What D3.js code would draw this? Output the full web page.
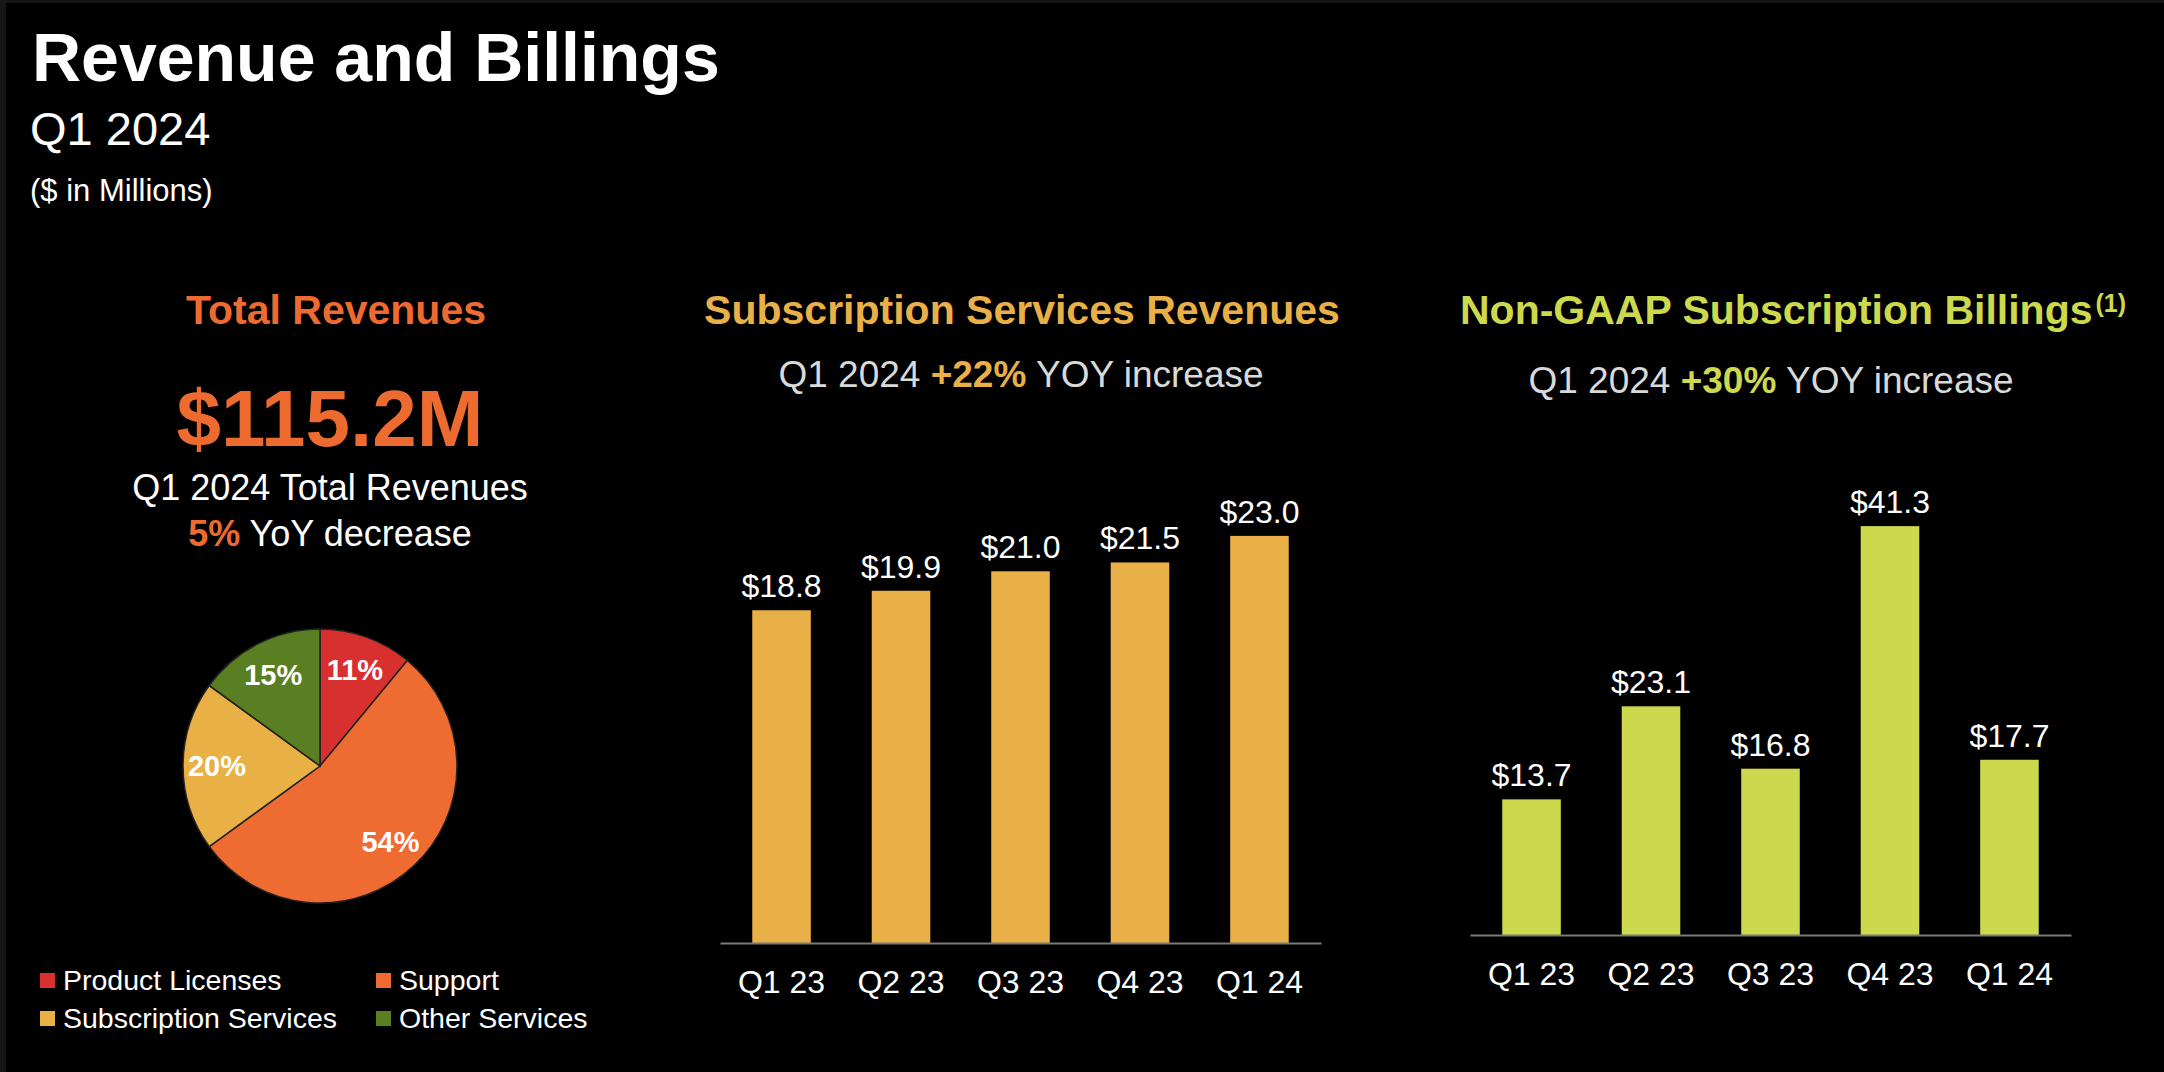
<!DOCTYPE html>
<html><head><meta charset="utf-8">
<script src="https://cdn.jsdelivr.net/npm/d3@7"></script>
<style>
html,body{margin:0;padding:0;background:#000;}
svg{display:block;}
text{font-family:"Liberation Sans",Arial,Helvetica,sans-serif;}
</style></head>
<body>
<script>
// ---- data ----
const quarters = ["Q1 23","Q2 23","Q3 23","Q4 23","Q1 24"];
const subscriptionRevenue = [18.8, 19.9, 21.0, 21.5, 23.0];
const subscriptionBillings = [13.7, 23.1, 16.8, 41.3, 17.7];
const revenueSegments = ["Product Licenses","Support","Subscription Services","Other Services"];
const revenueShares = [11, 54, 20, 15];
const segmentColors = ["#D8302F","#EE6B32","#E8B045","#5A7E22"];

const W = 2164, H = 1072;
const ORANGE = "#EE6B30", GOLD = "#E9B047", LIME = "#CDD94D", GREY = "#D9D9D9";

const svg = d3.select("body").append("svg").attr("width", W).attr("height", H);
svg.append("rect").attr("width", W).attr("height", H).attr("fill", "#161616");
svg.append("rect").attr("x", 6).attr("y", 3).attr("width", W - 6).attr("height", H - 3).attr("fill", "#000");

// ---- header ----
svg.append("text").attr("x", 32).attr("y", 81).attr("fill", "#fff")
  .attr("font-size", 68).attr("font-weight", "bold").text("Revenue and Billings");
svg.append("text").attr("x", 30).attr("y", 145).attr("fill", "#fff")
  .attr("font-size", 47).text("Q1 2024");
svg.append("text").attr("x", 30).attr("y", 201).attr("fill", "#fff")
  .attr("font-size", 31).text("($ in Millions)");

// ---- left panel ----
const lx = 330;
svg.append("text").attr("x", 336).attr("y", 324).attr("text-anchor", "middle")
  .attr("fill", ORANGE).attr("font-size", 41).attr("font-weight", "bold").text("Total Revenues");
svg.append("text").attr("x", lx).attr("y", 446).attr("text-anchor", "middle")
  .attr("fill", ORANGE).attr("font-size", 80).attr("font-weight", "bold").text("$115.2M");
svg.append("text").attr("x", lx).attr("y", 500).attr("text-anchor", "middle")
  .attr("fill", "#fff").attr("font-size", 36).text("Q1 2024 Total Revenues");
const dec = svg.append("text").attr("x", lx).attr("y", 546).attr("text-anchor", "middle")
  .attr("fill", "#fff").attr("font-size", 36);
dec.append("tspan").attr("fill", ORANGE).attr("font-weight", "bold").text("5%");
dec.append("tspan").text(" YoY decrease");

// pie
const pieData = revenueSegments.map((s, i) => ({name: s, value: revenueShares[i], color: segmentColors[i]}));
const pie = d3.pie().sort(null).value(d => d.value);
const R = 137;
const arc = d3.arc().innerRadius(0).outerRadius(R);
const labelArc = d3.arc().innerRadius(103).outerRadius(103);
const pg = svg.append("g").attr("transform", "translate(320,766)");
const arcs = pie(pieData);
pg.selectAll("path").data(arcs).join("path")
  .attr("d", arc).attr("fill", d => d.data.color)
  .attr("stroke", "#222").attr("stroke-width", 1.5);
pg.selectAll("text").data(arcs).join("text")
  .attr("transform", d => `translate(${labelArc.centroid(d)})`)
  .attr("text-anchor", "middle").attr("dy", "0.36em")
  .attr("fill", "#fff").attr("font-size", 29).attr("font-weight", "bold")
  .text(d => d.data.value + "%");

// legend
const legPos = [[40, 990], [376, 990], [40, 1028], [376, 1028]];
const leg = svg.append("g").selectAll("g").data(pieData).join("g")
  .attr("transform", (d, i) => `translate(${legPos[i][0]},${legPos[i][1]})`);
leg.append("rect").attr("x", 0).attr("y", -17).attr("width", 15).attr("height", 15)
  .attr("fill", d => d.color);
leg.append("text").attr("x", 23).attr("y", 0).attr("fill", "#fff")
  .attr("font-size", 28.5).text(d => d.name);

// ---- bar panels ----
function barPanel(opts) {
  const x = d3.scaleBand().domain(quarters).range([opts.x0, opts.x1])
    .paddingInner(0.51).paddingOuter(0.27);
  const y = d3.scaleLinear().domain([0, opts.max]).range([opts.base, opts.base - opts.pxPerUnit * opts.max]);
  const g = svg.append("g");
  g.selectAll("rect.bar").data(opts.values).join("rect").attr("class", "bar")
    .attr("x", (d, i) => x(quarters[i])).attr("width", x.bandwidth())
    .attr("y", d => y(d)).attr("height", d => y(0) - y(d))
    .attr("fill", opts.color);
  g.selectAll("text.val").data(opts.values).join("text").attr("class", "val")
    .attr("x", (d, i) => x(quarters[i]) + x.bandwidth() / 2)
    .attr("y", d => y(d) - 13).attr("text-anchor", "middle")
    .attr("fill", "#fff").attr("font-size", 32)
    .text(d => "$" + d3.format(".1f")(d));
  const ax = g.append("g").attr("transform", `translate(0,${opts.base})`)
    .call(d3.axisBottom(x).tickSize(0).tickSizeOuter(0).tickPadding(27));
  ax.select(".domain").attr("stroke", "#7a7a7a").attr("stroke-width", 2);
  ax.selectAll(".tick text").attr("fill", "#fff").attr("font-size", 32)
    .attr("font-family", "'Liberation Sans',Arial,sans-serif");
  // titles
  const t = svg.append("text").attr("x", opts.titleX).attr("y", 324)
    .attr("text-anchor", opts.titleAnchor).attr("fill", opts.color)
    .attr("font-size", 41).attr("font-weight", "bold");
  t.append("tspan").text(opts.title);
  if (opts.sup) {
    t.append("tspan").attr("font-size", 25).attr("dy", -12).attr("dx", 3).text(opts.sup);
  }
  const s = svg.append("text").attr("x", opts.subX).attr("y", opts.subY)
    .attr("text-anchor", "middle").attr("fill", GREY).attr("font-size", 37);
  s.append("tspan").text("Q1 2024 ");
  s.append("tspan").attr("fill", opts.color).attr("font-weight", "bold").text(opts.growth);
  s.append("tspan").text(" YOY increase");
}

barPanel({
  x0: 720, x1: 1321, base: 943, max: 25, pxPerUnit: 17.7,
  values: subscriptionRevenue, color: GOLD,
  title: "Subscription Services Revenues", titleX: 1022, titleAnchor: "middle",
  subX: 1021, subY: 387, growth: "+22%"
});
barPanel({
  x0: 1470, x1: 2071, base: 935, max: 45, pxPerUnit: 9.9,
  values: subscriptionBillings, color: LIME,
  title: "Non-GAAP Subscription Billings", sup: "(1)", titleX: 1460, titleAnchor: "start",
  subX: 1771, subY: 393, growth: "+30%"
});
</script>
</body></html>
